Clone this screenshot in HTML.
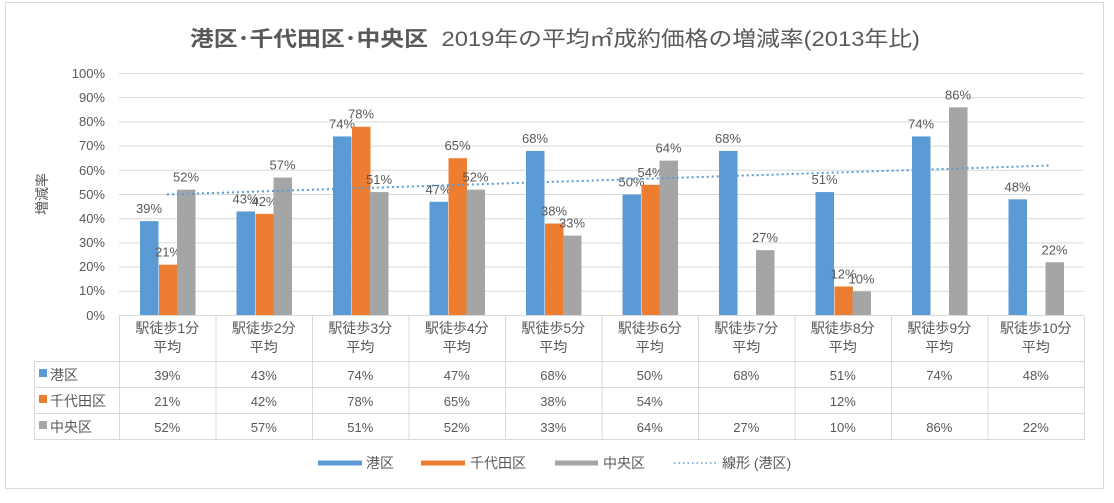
<!DOCTYPE html>
<html><head><meta charset="utf-8"><style>
body{margin:0;background:#fff;}
svg text{font-family:"Liberation Sans","Noto Sans CJK JP",sans-serif;fill:#595959;}
</style></head><body>
<svg width="1114" height="498" viewBox="0 0 1114 498" xmlns="http://www.w3.org/2000/svg">
<rect x="5.5" y="2.5" width="1098" height="486" fill="#fff" stroke="#d9d9d9"/>
<text x="190" y="46" font-size="21" textLength="730" lengthAdjust="spacingAndGlyphs"><tspan font-weight="bold">港区･千代田区･中央区</tspan><tspan dx="12">2019年の平均㎡成約価格の増減率(2013年比)</tspan></text>
<g id="grid" stroke="#d9d9d9" stroke-width="1">
<line x1="119" x2="1084" y1="73.5" y2="73.5"/><line x1="119" x2="1084" y1="97.7" y2="97.7"/>
<line x1="119" x2="1084" y1="121.9" y2="121.9"/><line x1="119" x2="1084" y1="146.1" y2="146.1"/>
<line x1="119" x2="1084" y1="170.3" y2="170.3"/><line x1="119" x2="1084" y1="194.5" y2="194.5"/>
<line x1="119" x2="1084" y1="218.7" y2="218.7"/><line x1="119" x2="1084" y1="242.9" y2="242.9"/>
<line x1="119" x2="1084" y1="267.1" y2="267.1"/><line x1="119" x2="1084" y1="291.3" y2="291.3"/>
<line x1="119" x2="1084" y1="315.5" y2="315.5"/>
</g>
<g font-size="13" text-anchor="end">
<text x="105" y="78">100%</text><text x="105" y="102">90%</text><text x="105" y="126">80%</text>
<text x="105" y="150">70%</text><text x="105" y="175">60%</text><text x="105" y="199">50%</text>
<text x="105" y="223">40%</text><text x="105" y="247">30%</text><text x="105" y="271">20%</text>
<text x="105" y="295">10%</text><text x="105" y="320">0%</text>
</g>
<text transform="translate(47,194) rotate(-90)" font-size="14" text-anchor="middle">増減率</text>
<g id="bars"></g>
<line x1="167" y1="194.5" x2="1050" y2="165.5" stroke="#5b9bd5" stroke-width="2" stroke-dasharray="2,3"/>
<g stroke="#d9d9d9" fill="none">
<line x1="119" x2="1084" y1="315.5" y2="315.5"/>
<line x1="34" x2="1084" y1="361.5" y2="361.5"/>
<line x1="34" x2="1084" y1="387.5" y2="387.5"/>
<line x1="34" x2="1084" y1="413.5" y2="413.5"/>
<line x1="34" x2="1084" y1="439.5" y2="439.5"/>
<line x1="34.5" x2="34.5" y1="361" y2="440"/>
<g id="vl"></g>
</g>
<g font-size="13">
<rect x="39" y="369" width="8" height="8" fill="#5b9bd5"/><text x="50" y="380" font-size="14">港区</text>
<rect x="39" y="395" width="8" height="8" fill="#ed7d31"/><text x="50" y="406" font-size="14">千代田区</text>
<rect x="39" y="421" width="8" height="8" fill="#a5a5a5"/><text x="50" y="432" font-size="14">中央区</text>
</g>
<g id="tbl" font-size="13" text-anchor="middle"></g>
<g font-size="14">
<line x1="318" x2="362" y1="463" y2="463" stroke="#5b9bd5" stroke-width="5"/><text x="366" y="468">港区</text>
<line x1="421" x2="465" y1="463" y2="463" stroke="#ed7d31" stroke-width="5"/><text x="470" y="468">千代田区</text>
<line x1="555" x2="598" y1="463" y2="463" stroke="#a5a5a5" stroke-width="5"/><text x="603" y="468">中央区</text>
<line x1="674" x2="718" y1="463" y2="463" stroke="#5b9bd5" stroke-width="1.5" stroke-dasharray="1.5,3"/><text x="722" y="468">線形 (港区)</text>
</g>
<script>
var A=[39,43,74,47,68,50,68,51,74,48],B=[21,42,78,65,38,54,null,12,null,null],C=[52,57,51,52,33,64,27,10,86,22];
var ns="http://www.w3.org/2000/svg",bars=document.getElementById("bars"),tbl=document.getElementById("tbl"),vl=document.getElementById("vl");
function el(t,a,p,txt){var e=document.createElementNS(ns,t);for(var k in a)e.setAttribute(k,a[k]);if(txt!=null)e.textContent=txt;p.appendChild(e);return e;}
var cw=96.5,y0=315.5,k=2.42,cols=["#5b9bd5","#ed7d31","#a5a5a5"],offs=[21,40,58];
for(var i=0;i<10;i++){var x=119+i*cw;
[A,B,C].forEach(function(s,j){var v=s[i];if(v==null)return;var h=v*k;
el("rect",{x:x+offs[j],y:y0-h,width:18.5,height:h,fill:cols[j]},bars);
el("text",{x:x+offs[j]+9,y:y0-h-8,"text-anchor":"middle","font-size":"13"},bars,v+"%");});
el("line",{x1:x+0.5,x2:x+0.5,y1:316,y2:440},vl);
el("text",{x:x+cw/2,y:333,"font-size":"14"},tbl,"駅徒歩"+(i+1)+"分");
el("text",{x:x+cw/2,y:352,"font-size":"14"},tbl,"平均");
[A,B,C].forEach(function(s,j){if(s[i]!=null)el("text",{x:x+cw/2,y:380+26*j},tbl,s[i]+"%");});
}
el("line",{x1:1084.5,x2:1084.5,y1:316,y2:440},vl);
</script>
</svg>
</body></html>
